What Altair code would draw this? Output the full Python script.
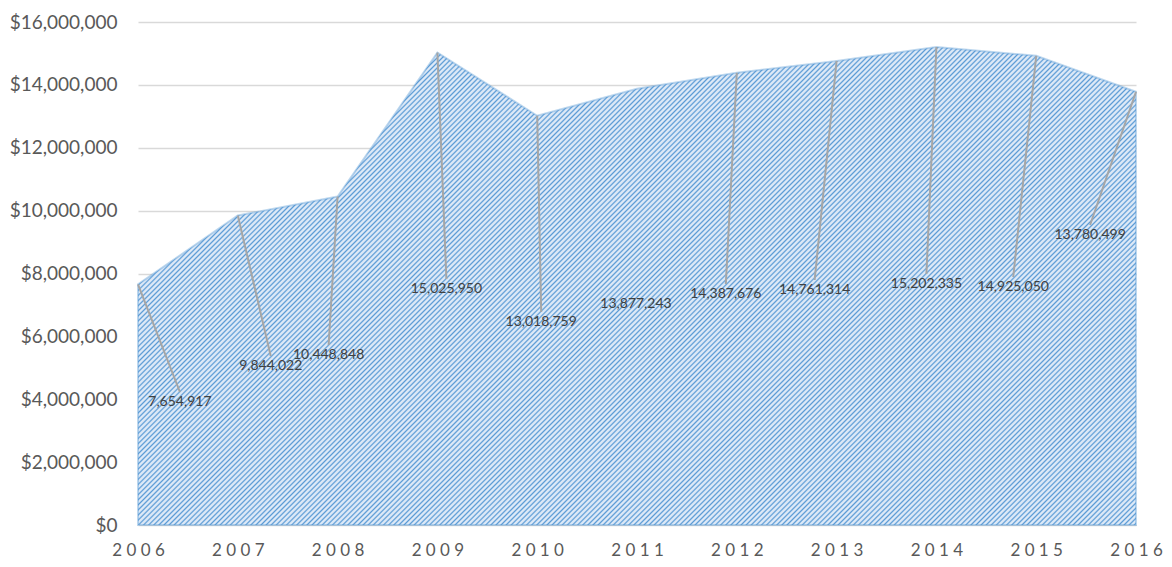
import altair as alt
import pandas as pd

# ---- data ----
years = [2006, 2007, 2008, 2009, 2010, 2011, 2012, 2013, 2014, 2015, 2016]
values = [7654917, 9844022, 10448848, 15025950, 13018759, 13877243,
          14387676, 14761314, 15202335, 14925050, 13780499]
# where each data label sits (in data units: year, dollars)
label_years = [2006.42, 2007.33, 2007.91, 2009.09, 2010.04, 2010.99,
               2011.89, 2012.78, 2013.90, 2014.77, 2015.54]
label_values = [4230600, 5375700, 5725600, 7825000, 6775300, 7347900,
                7666000, 7793200, 7984100, 7888600, 9542700]
has_leader = [True, True, True, True, True, False,
              True, True, True, True, True]
y_ticks = [0, 2000000, 4000000, 6000000, 8000000, 10000000,
           12000000, 14000000, 16000000]

df = pd.DataFrame({
    "year": years, "value": values,
    "ly": label_years, "lv": label_values, "lead": has_leader,
})
df["label"] = [f"{v:,}" for v in values]

W, H = 998, 503
Y_MAX = 16000000
FONT = "Lato"

# ---- striped (hatched) fill built as a linear gradient ----
area_h = max(values) / Y_MAX * H
r = area_h / W
k = (1 + r) / (1 + r * r)
diag = (W + area_h) / 2 ** 0.5
pitch = 3.6
n = int(diag / pitch)
light, dark = "#dde9f7", "#5b9bd5"
stops = []
for i in range(n):
    stops.append(alt.GradientStop(color=light, offset=i / n))
    stops.append(alt.GradientStop(color=light, offset=(i + 0.38) / n))
    stops.append(alt.GradientStop(color=dark, offset=(i + 0.69) / n))
stops.append(alt.GradientStop(color=light, offset=1.0))
hatch = alt.Gradient(gradient="linear", stops=stops, x1=0, y1=0, x2=k, y2=k * r)

x_enc = alt.X("year:Q", scale=alt.Scale(domain=[2006, 2016], nice=False, zero=False),
              axis=alt.Axis(values=years, title=None, grid=False, domain=False, ticks=False,
                            labelFont=FONT, labelFontSize=17, labelColor="#595959",
                            labelPadding=17, labelFlush=False, labelOverlap=False,
                            labelExpr="join(split(toString(datum.value), ''), ' ')"))
y_enc = alt.Y("value:Q", scale=alt.Scale(domain=[0, Y_MAX], nice=False),
              axis=alt.Axis(values=y_ticks, title=None, format="$,.0f", domain=False,
                            ticks=False, labelFont=FONT, labelFontSize=19,
                            labelColor="#595959", labelPadding=21,
                            labelOverlap=False,
                            gridColor="#d9d9d9", gridWidth=1.3))

base = alt.Chart(df)

area = base.mark_area(color=hatch, stroke="#5b9bd5", strokeWidth=2,
                      strokeOpacity=0.4).encode(x=x_enc, y=y_enc)

leaders = base.transform_filter("datum.lead").mark_rule(
    color="#a6a6a6", strokeWidth=2).encode(
    x="year:Q", y="value:Q", x2="ly:Q", y2="lv:Q")

labels = base.mark_text(font=FONT, fontSize=14, color="#404040",
                        baseline="top", align="center", dy=3).encode(
    x="ly:Q", y="lv:Q", text="label:N")

chart = alt.layer(area, leaders, labels).properties(
    width=W, height=H,
    autosize=alt.AutoSizeParams(type="none"),
    padding={"left": 130, "top": 14, "right": 28, "bottom": 34},
).configure_view(stroke=None)

chart.save("out.html", embed_options={"renderer": "svg", "actions": False})
